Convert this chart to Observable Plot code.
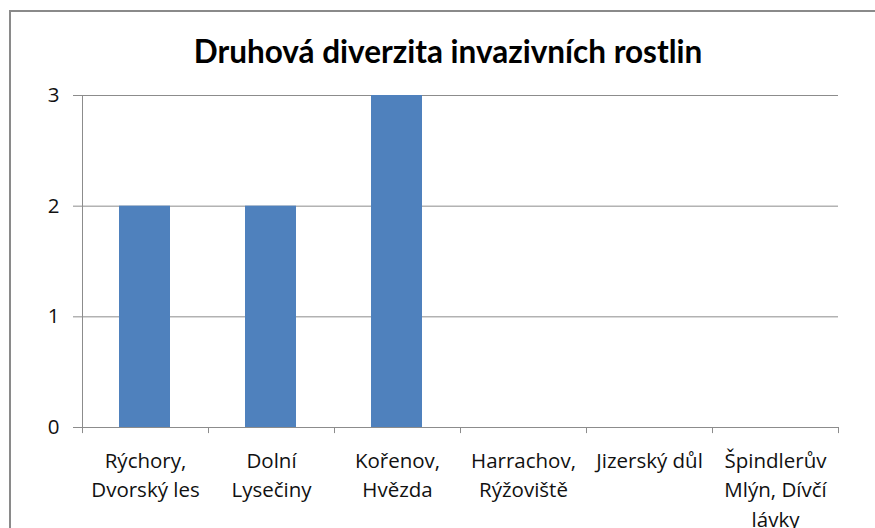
<!DOCTYPE html>
<html>
<head>
<meta charset="utf-8">
<script src="https://cdn.jsdelivr.net/npm/d3@7"></script>
<script src="https://cdn.jsdelivr.net/npm/@observablehq/plot@0.6"></script>
<style>
  html, body { margin: 0; padding: 0; background: #fff; overflow: hidden; }
  #wrap { position: relative; width: 875px; height: 528px; }
  #border { position: absolute; left: 9px; top: 10px; width: 900px; height: 600px; border: 2px solid #8a8a8a; box-sizing: border-box; }
  #title { position: absolute; left: 0; width: 896px; top: 32px; text-align: center; font-family: Lato, "Open Sans", sans-serif; font-weight: bold; font-size: 31.5px; color: #000; }
  #chart { position: absolute; left: 0; top: 0; }
</style>
</head>
<body>
<div id="wrap">
  <div id="border"></div>
  <div id="chart"></div>
  <div id="title">Druhová diverzita invazivních rostlin</div>
</div>
<script>
const categories = ["Rýchory,\nDvorský les", "Dolní\nLysečiny", "Kořenov,\nHvězda", "Harrachov,\nRýžoviště", "Jizerský důl", "Špindlerův\nMlýn, Dívčí\nlávky"];
const values = [2, 2, 3, 0, 0, 0];
const yTicks = [0, 1, 2, 3];

const data = categories.map((c, i) => ({category: c, value: values[i]}));
const gridColor = "#8c8c8c";

const chart = Plot.plot({
  width: 875,
  height: 528,
  marginLeft: 82,
  marginRight: 37,
  marginTop: 95,
  marginBottom: 101,
  style: {fontFamily: "'Open Sans', Lato, sans-serif", fontSize: "20.5px", color: "#111", background: "transparent"},
  x: {type: "band", domain: categories, padding: 0},
  y: {type: "linear", domain: [0, 3]},
  marks: [
    Plot.ruleY(yTicks, {y: d => d, stroke: gridColor, strokeWidth: 1, insetLeft: -9}),
    Plot.barY(data, {x: "category", y: "value", fill: "#4F81BD", insetLeft: 37, insetRight: 38}),
    Plot.frame({anchor: "left", stroke: gridColor}),
    Plot.ruleX(categories, {x: d => d, dx: -63, y1: 0, y2: -0.055, stroke: gridColor}),
    Plot.ruleX(categories.slice(-1), {x: d => d, dx: 63, y1: 0, y2: -0.055, stroke: gridColor}),
    Plot.axisY({ticks: yTicks, tickSize: 0, tickPadding: 23, tickFormat: d3.format("d"), label: null, fill: "#111"}),
    Plot.axisX({tickSize: 0, tickPadding: 19, label: null, lineHeight: 1.45, fill: "#111", tickFormat: d => d})
  ]
});
document.getElementById("chart").appendChild(chart);
</script>
</body>
</html>
